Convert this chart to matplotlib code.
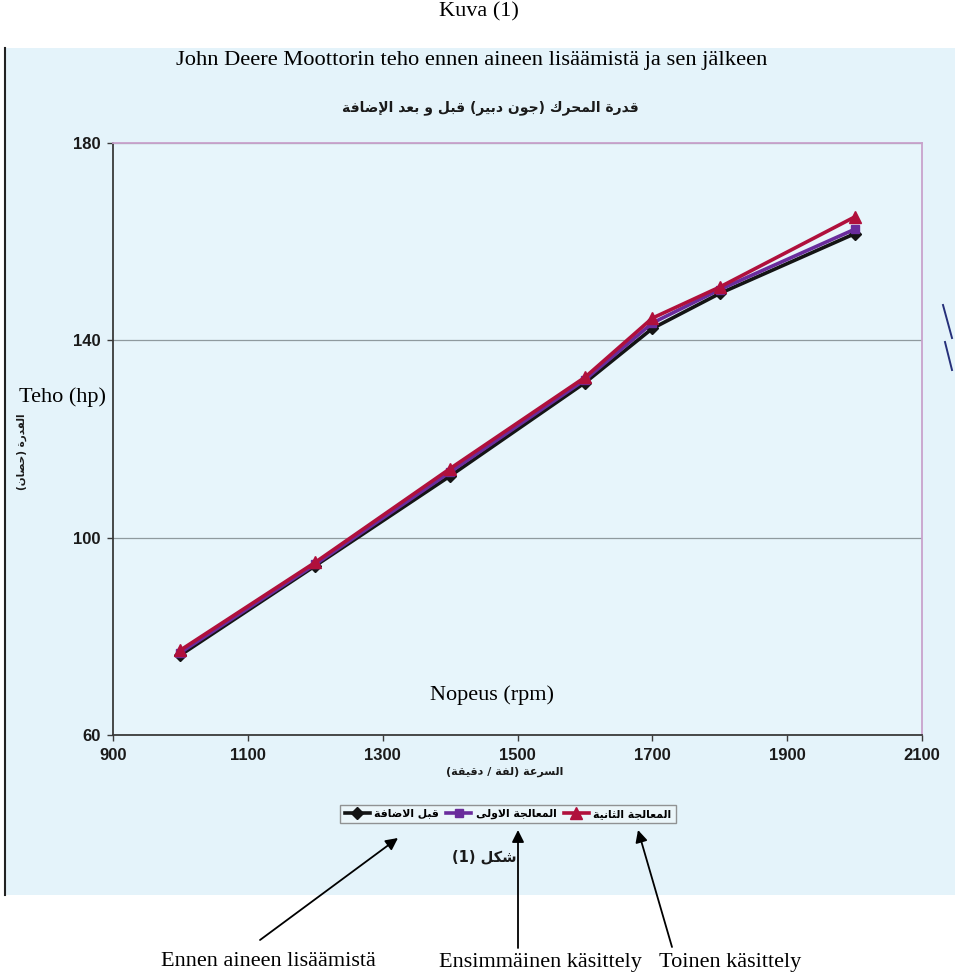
# John Deere engine power before and after the additive (scanned figure with Finnish notes)

import matplotlib.pyplot as plt
from matplotlib.patches import Rectangle
from matplotlib.lines import Line2D

rpm = [1000, 1200, 1400, 1600, 1700, 1800, 2000]
before = [76.2, 94.3, 112.5, 131.4, 142.4, 149.5, 161.6]
first = [76.7, 94.6, 113.3, 132.0, 143.5, 150.3, 162.5]
second = [77.2, 95.0, 114.0, 132.5, 144.5, 150.8, 165.0]
x_ticks = [900, 1100, 1300, 1500, 1700, 1900, 2100]
y_ticks = [60, 100, 140, 180]

series_labels = ["قبل الاضافة", "المعالجة الاولى", "المعالجة الثانية"]
title_ar = "قدرة المحرك (جون دبير) قبل و بعد الإضافة"
xlabel_ar = "السرعة (لفة / دقيقة)"
ylabel_ar = "القدرة (حصان)"
figure_ar = "شكل (1)"
captions = ["Ennen aineen lisäämistä", "Ensimmäinen käsittely", "Toinen käsittely"]

# matplotlib does no arabic shaping, so pick the presentation forms by hand
LETTERS = "ءآأؤإئابةتثجحخدذرزسشصضطظعغفقكلمنهوىي"
NFORMS = [1, 2, 2, 2, 2, 4, 2, 4, 2, 4, 4, 4, 4, 4, 2, 2, 2, 2,
          4, 4, 4, 4, 4, 4, 4, 4, 4, 4, 4, 4, 4, 4, 4, 2, 2, 4]
FORMS = {}
code = 0xFE80
for ch, n in zip(LETTERS, NFORMS):
    FORMS[ch] = (code, n)
    code += n
LAMALEF = {"آ": 0xFEF5, "أ": 0xFEF7, "إ": 0xFEF9, "ا": 0xFEFB}


def arabic(s):
    out = []
    i = 0
    while i < len(s):
        c = s[i]
        if c not in FORMS:
            out.append(c)
            i += 1
            continue
        prev = s[i - 1] if i > 0 else ""
        joined_prev = prev in FORMS and FORMS[prev][1] == 4
        if c == "ل" and i + 1 < len(s) and s[i + 1] in LAMALEF:
            out.append(chr(LAMALEF[s[i + 1]] + int(joined_prev)))
            i += 2
            continue
        base, n = FORMS[c]
        joined_next = n == 4 and i + 1 < len(s) and s[i + 1] in FORMS
        out.append(chr(base + int(joined_prev) + 2 * int(joined_next)))
        i += 1
    return "".join(out)[::-1].translate(str.maketrans("()", ")("))


def pos(x, y):
    # figure pixel (from top-left) -> figure fraction
    return (x / 960, 1 - y / 975)


SERIF = "Liberation Serif"
AR = dict(family="DejaVu Sans", weight="bold", color="#1a1a1a")

fig = plt.figure(figsize=(9.6, 9.75), dpi=100)

# scanned page background, kept under the axes
fig.patches.append(Rectangle(pos(5, 895), 950 / 960, 847 / 975, transform=fig.transFigure,
                             facecolor="#e4f3fa", edgecolor="none", zorder=-5))
fig.add_artist(Line2D([5 / 960, 5 / 960], [1 - 48 / 975, 1 - 895 / 975], color="#222222", lw=1.5))
# pen marks on the right margin of the scan
for (x0, y0), (x1, y1) in [((943, 305), (952, 338)), ((945, 342), (952, 370))]:
    fig.add_artist(Line2D([x0 / 960, x1 / 960], [1 - y0 / 975, 1 - y1 / 975], color="#26307a", lw=1.4))

ax = fig.add_axes([113 / 960, 1 - 735 / 975, 809 / 960, 592 / 975])
ax.set_facecolor("#e7f5fb")

ax.plot(rpm, before, color="#141414", marker="D", ms=6, lw=2.6, label=arabic(series_labels[0]))
ax.plot(rpm, first, color="#6a2c9c", marker="s", ms=6, lw=2.6, label=arabic(series_labels[1]))
ax.plot(rpm, second, color="#b0103c", marker="^", ms=8, lw=2.6, label=arabic(series_labels[2]))

ax.set_xlim(900, 2100)
ax.set_ylim(60, 180)
ax.set_xticks(x_ticks)
ax.set_yticks(y_ticks)
ax.yaxis.grid(True, color="#8f9a9e", lw=0.9)
ax.set_axisbelow(True)
for side in ["left", "bottom"]:
    ax.spines[side].set_color("#3a3a3a")
    ax.spines[side].set_linewidth(1.3)
for side in ["top", "right"]:
    ax.spines[side].set_color("#c9a2cc")
    ax.spines[side].set_linewidth(1.3)
ax.tick_params(length=4, width=1, colors="#3a3a3a", labelcolor="#1a1a1a", labelsize=12, pad=5)
for lbl in ax.get_xticklabels() + ax.get_yticklabels():
    lbl.set_fontfamily("Liberation Sans")
    lbl.set_fontweight("bold")

fig.text(*pos(479, 12), "Kuva (1)", ha="center", va="center", family=SERIF, size=16)
fig.text(*pos(472, 60), "John Deere Moottorin teho ennen aineen lisäämistä ja sen jälkeen",
         ha="center", va="center", family=SERIF, size=16.2)
fig.text(*pos(490, 108), arabic(title_ar), ha="center", va="center", size=10, **AR)
fig.text(*pos(62, 397), "Teho (hp)", ha="center", va="center", family=SERIF, size=16)
fig.text(*pos(22, 452), arabic(ylabel_ar), ha="center", va="center", rotation=90, size=7.5, **AR)
fig.text(*pos(492, 695), "Nopeus (rpm)", ha="center", va="center", family=SERIF, size=16)
fig.text(*pos(505, 772), arabic(xlabel_ar), ha="center", va="center", size=8, **AR)
fig.text(*pos(484, 857), arabic(figure_ar), ha="center", va="center", size=10.5, **AR)

leg = fig.legend(loc="center", bbox_to_anchor=pos(508, 814), ncol=3, frameon=True, fancybox=False,
                 prop=dict(family="DejaVu Sans", weight="bold", size=7.8),
                 handlelength=2.3, handletextpad=0.4, columnspacing=0.7, borderpad=0.4)
leg.get_frame().set_edgecolor("#7a7a7a")
leg.get_frame().set_facecolor("#eef7fb")
leg.get_frame().set_linewidth(1.0)

for text, x in zip(captions, [268, 540, 730]):
    fig.text(*pos(x, 962), text, ha="center", va="center", family=SERIF, size=16)

arrow = dict(arrowstyle="-|>", color="black", lw=1.3, mutation_scale=18, shrinkA=0, shrinkB=0)
for tail, head in [((260, 940), (398, 838)), ((518, 948), (518, 830)), ((672, 947), (638, 830))]:
    ax.annotate("", xy=pos(*head), xytext=pos(*tail), xycoords="figure fraction",
                textcoords="figure fraction", arrowprops=arrow, annotation_clip=False)

plt.savefig("out.png")
